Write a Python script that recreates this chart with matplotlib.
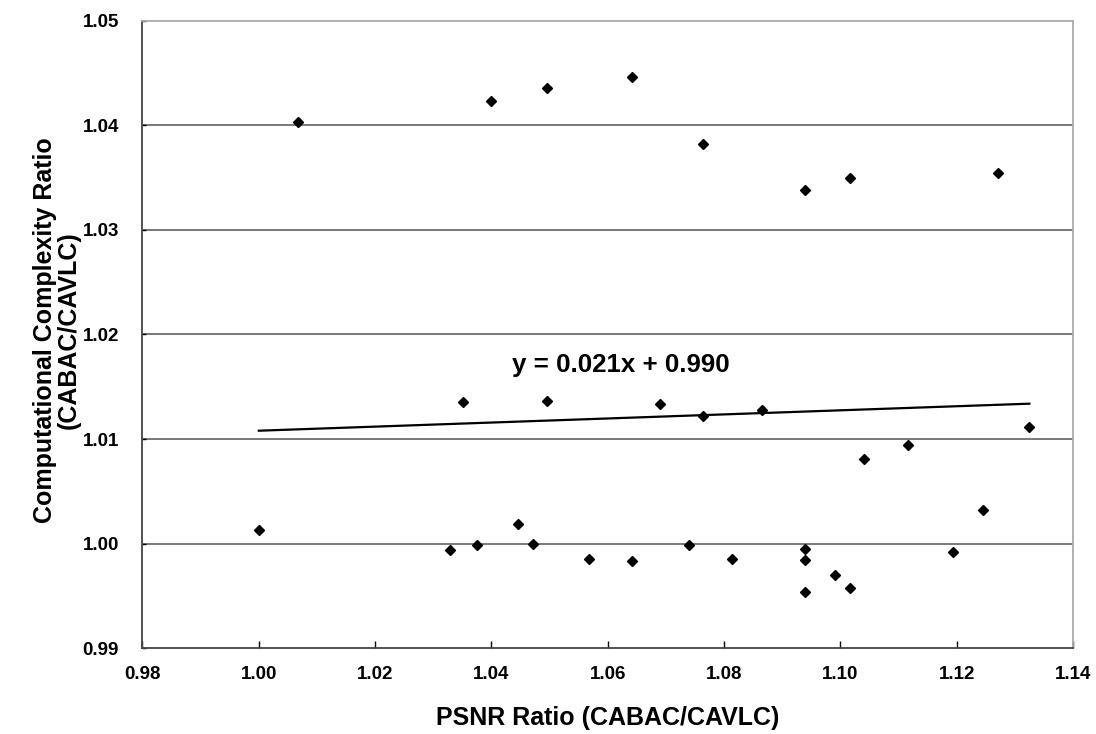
#!/usr/bin/env python3
"""Complexity ratio vs PSNR ratio scatter (CABAC / CAVLC) with linear trend."""

import matplotlib.pyplot as plt
import numpy as np

plt.rcParams["font.family"] = ["Liberation Sans", "DejaVu Sans"]
plt.rcParams["font.weight"] = "bold"

# PSNR ratio (x) and computational complexity ratio (y)
psnr_ratio = [
    1.0068, 1.0399, 1.0495, 1.0641, 1.0764, 1.0940, 1.1016, 1.1271,
    1.0351, 1.0495, 1.0690, 1.0764, 1.0865, 1.1325, 1.1041, 1.1116,
    1.0000, 1.0328, 1.0375, 1.0446, 1.0472, 1.0568, 1.0641, 1.0740,
    1.0814, 1.0940, 1.0940, 1.0940, 1.0990, 1.1016, 1.1194, 1.1245,
]
complexity_ratio = [
    1.0403, 1.0423, 1.0436, 1.0446, 1.0382, 1.0338, 1.0350, 1.0354,
    1.0135, 1.0136, 1.0134, 1.0122, 1.0128, 1.0112, 1.0081, 1.0094,
    1.0013, 0.9994, 0.9999, 1.0019, 1.0000, 0.9985, 0.9983, 0.9999,
    0.9985, 0.9995, 0.9984, 0.9954, 0.9970, 0.9958, 0.9992, 1.0032,
]
# trend line as drawn on the chart (label shows the rounded coefficients)
trend_slope = 0.0195
trend_intercept = 0.9913
equation = "y = 0.021x + 0.990"

x_ticks = [0.98, 1.00, 1.02, 1.04, 1.06, 1.08, 1.10, 1.12, 1.14]
y_ticks = [0.99, 1.00, 1.01, 1.02, 1.03, 1.04, 1.05]


def main() -> None:
    x = np.array(psnr_ratio)
    y = np.array(complexity_ratio)
    xf = np.array([x.min(), x.max()])

    fig = plt.figure(figsize=(10.96, 7.34), dpi=100)
    ax = fig.add_axes([0.130, 0.1168, 0.849, 0.855])

    for yv in y_ticks[1:-1]:
        ax.axhline(yv, color="#555555", linewidth=1.1, zorder=1)

    ax.plot(xf, trend_slope * xf + trend_intercept, color="black",
            linewidth=1.6, zorder=2)
    ax.plot(x, y, linestyle="none", marker="D", markersize=5.2,
            color="black", zorder=3)
    ax.text(1.0435, 1.0171, equation, fontsize=18.6, fontweight="bold",
            ha="left", va="center")

    ax.set_xlim(x_ticks[0], x_ticks[-1])
    ax.set_ylim(y_ticks[0], y_ticks[-1])
    ax.set_xticks(x_ticks)
    ax.set_yticks(y_ticks)
    ax.set_xticklabels([f"{v:.2f}" for v in x_ticks])
    ax.set_yticklabels([f"{v:.2f}" for v in y_ticks])
    ax.tick_params(axis="x", direction="in", length=5, width=1,
                   pad=13, labelsize=13.5, colors="black")
    ax.tick_params(axis="y", direction="in", length=3, width=1,
                   pad=17, labelsize=13.5, colors="black")

    for side in ("left", "bottom"):
        ax.spines[side].set_color("#444444")
        ax.spines[side].set_linewidth(1.3)
    for side in ("top", "right"):
        ax.spines[side].set_color("#aaaaaa")
        ax.spines[side].set_linewidth(1.3)

    ax.set_xlabel("PSNR Ratio (CABAC/CAVLC)", fontsize=18, fontweight="bold",
                  va="center")
    ax.xaxis.set_label_coords(0.5, -0.111)
    ax.set_ylabel("Computational Complexity Ratio\n(CABAC/CAVLC)", fontsize=18,
                  fontweight="bold", va="center", linespacing=1.0)
    ax.yaxis.set_label_coords(-0.092, 0.507)

    fig.savefig("out.png", dpi=100)
    plt.close(fig)


if __name__ == "__main__":
    main()
